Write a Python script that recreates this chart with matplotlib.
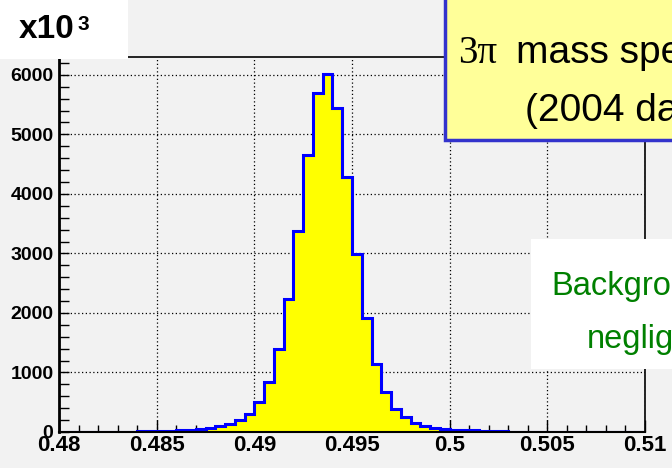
import matplotlib
matplotlib.use("Agg")
import matplotlib.pyplot as plt
from matplotlib.patches import Rectangle
from matplotlib.ticker import MultipleLocator
import numpy as np

# ---- data ----
bin_lo = 0.48
bin_hi = 0.51
n_bins = 60
counts = [2, 2, 3, 3, 4, 5, 6, 7, 9, 14,
          17, 21, 32, 40, 55, 65, 98, 138, 200, 308,
          508, 840, 1388, 2227, 3370, 4660, 5700, 6020, 5450, 4290,
          2990, 1910, 1150, 680, 390, 257, 157, 102, 72, 55,
          42, 36, 28, 24, 16, 13, 8, 6, 5, 4,
          3, 3, 2, 2, 2, 1, 1, 1, 1, 1]
x_ticks = [0.48, 0.485, 0.49, 0.495, 0.5, 0.505, 0.51]
x_tick_labels = ["0.48", "0.485", "0.49", "0.495", "0.5", "0.505", "0.51"]
y_ticks = [0, 1000, 2000, 3000, 4000, 5000, 6000]
y_tick_labels = ["0", "1000", "2000", "3000", "4000", "5000", "6000"]
title_sym = "3\u03c0"
title_rest = "mass spectrum"
title_line2 = "(2004 data)"
note_line1 = "Background"
note_line2 = "negligible"

W, H = 672, 468
BG = "#f2f2f2"

def fx(x):
    return x / W

def fy(y):
    return 1 - y / H

fig = plt.figure(figsize=(W / 100, H / 100), dpi=100, facecolor=BG)
ax = fig.add_axes([fx(59), fy(432), (645 - 59) / W, (432 - 57) / H])
ax.set_facecolor(BG)

edges = np.linspace(bin_lo, bin_hi, n_bins + 1)
ax.stairs(counts, edges, fill=True, color="#ffff00", zorder=2)
ax.stairs(counts, edges, color="#0000ff", linewidth=2.2, zorder=3)

ax.set_xlim(bin_lo, bin_hi)
ax.set_ylim(0, 6300)
ax.set_xticks(x_ticks)
ax.set_xticklabels(x_tick_labels, fontsize=16, fontweight="bold",
                   family="Liberation Sans")
ax.set_yticks(y_ticks)
ax.set_yticklabels(y_tick_labels, fontsize=14, fontweight="bold",
                   family="Liberation Sans")
ax.xaxis.set_minor_locator(MultipleLocator(0.001))
ax.yaxis.set_minor_locator(MultipleLocator(200))
ax.tick_params(axis="x", which="major", direction="in", length=9, width=1,
               pad=2, colors="black")
ax.tick_params(axis="x", which="minor", direction="in", length=5, width=1)
ax.tick_params(axis="y", which="major", direction="in", length=7, width=1,
               pad=4)
ax.tick_params(axis="y", which="minor", direction="in", length=7, width=1)
ax.grid(True, which="major", color="black", linestyle=(0, (1, 2)),
        linewidth=0.9, zorder=1)
ax.set_axisbelow(True)
for s in ax.spines.values():
    s.set_linewidth(1.2)
    s.set_zorder(4)
ax.spines["left"].set_linewidth(2)
ax.spines["bottom"].set_linewidth(1.5)

# white box with exponent label
fig.add_artist(Rectangle((0, fy(58.5)), fx(128), 1 - fy(58.5),
                         transform=fig.transFigure, facecolor="white",
                         edgecolor="none", zorder=10))
fig.text(fx(19), fy(38), "x10", fontsize=24, fontweight="bold",
         family="Liberation Sans", va="baseline", ha="left", zorder=11)
fig.text(fx(78), fy(30), "3", fontsize=15, fontweight="bold",
         family="Liberation Sans", va="baseline", ha="left", zorder=11)

# title box
fig.add_artist(Rectangle((fx(445), fy(140)), fx(240), fy(0) - fy(140) + 0.01,
                         transform=fig.transFigure, facecolor="#ffff99",
                         edgecolor="#3333cc", linewidth=2.5, zorder=10))
fig.text(fx(458), fy(63), title_sym, fontsize=28, family="Liberation Serif",
         va="baseline", ha="left", zorder=11)
fig.text(fx(516), fy(63), title_rest, fontsize=28, family="Liberation Sans",
         va="baseline", ha="left", zorder=11)
fig.text(fx(525), fy(121), title_line2, fontsize=28, family="Liberation Sans",
         va="baseline", ha="left", zorder=11)

# background note box
fig.add_artist(Rectangle((fx(531), fy(369)), fx(200), fy(239) - fy(369),
                         transform=fig.transFigure, facecolor="white",
                         edgecolor="none", zorder=10))
fig.text(fx(551), fy(295), note_line1, fontsize=23.5, family="Liberation Sans",
         color="#008000", va="baseline", ha="left", zorder=11)
fig.text(fx(587), fy(348), note_line2, fontsize=23.5, family="Liberation Sans",
         color="#008000", va="baseline", ha="left", zorder=11)

fig.savefig("out.png", dpi=100, facecolor=BG)
